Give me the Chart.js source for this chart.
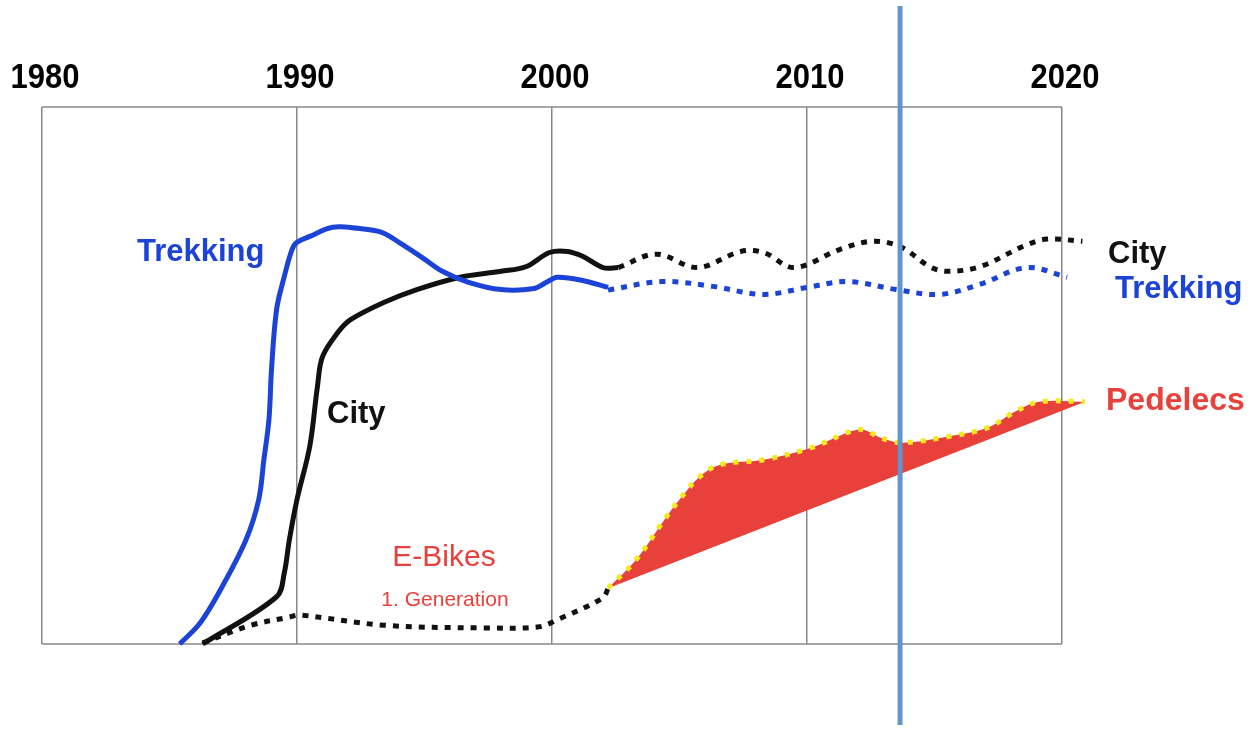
<!DOCTYPE html>
<html>
<head>
<meta charset="utf-8">
<script src="https://cdn.jsdelivr.net/npm/chart.js@4/dist/chart.umd.min.js"></script>
<style>
  body { margin: 0; background: #fff; }
  #wrap { width: 1253px; height: 730px; position: relative; }
</style>
</head>
<body>
<div id="wrap"><canvas id="bikeChart"></canvas></div>
<script>
// year ticks along the top
const yearTicks = [1980, 1990, 2000, 2010, 2020];

// Trekking, solid part
const trekkingYears = [1985.4, 1986.2, 1987.0, 1988.0, 1988.5, 1988.7, 1988.9, 1989.0, 1989.2, 1989.5, 1989.8, 1990.0, 1990.5, 1991.4, 1992.4, 1993.3, 1994.0, 1994.9, 1995.7, 1996.7, 1998.0, 1999.3, 1999.8, 2000.2, 2001.2, 2002.2];
const trekkingShare = [0, 3.9, 10.1, 19.4, 26.9, 34.3, 41.8, 51.1, 62.3, 68.4, 73.4, 74.8, 75.9, 77.6, 77.4, 76.7, 74.8, 72.0, 69.4, 67.4, 66.0, 66.2, 67.4, 68.3, 67.7, 66.4];
// Trekking, dotted outlook
const trekkingOutYears = [2002.2, 2004.3, 2006.3, 2008.3, 2010.0, 2011.6, 2013.5, 2015.2, 2016.8, 2018.6, 2020.2];
const trekkingOutShare = [65.9, 67.5, 66.6, 65.1, 66.4, 67.5, 66.0, 65.1, 67.0, 70.1, 68.3];

// City, solid part
const cityYears = [1986.3, 1989.2, 1989.5, 1989.7, 1990.0, 1990.5, 1990.8, 1991.0, 1991.6, 1992.1, 1993.4, 1994.7, 1996.4, 1998.0, 1999.0, 1999.9, 2000.6, 2001.2, 2002.0, 2002.6];
const cityShare = [0, 8.8, 13.2, 19.4, 26.9, 36.8, 47.9, 53.5, 58.0, 60.4, 63.6, 66.0, 68.3, 69.4, 70.3, 72.9, 73.1, 72.2, 70.1, 70.1];
// City, dotted outlook
const cityOutYears = [2002.6, 2004.1, 2005.7, 2007.4, 2008.3, 2009.5, 2011.3, 2012.6, 2013.7, 2014.8, 2015.5, 2016.8, 2018.5, 2019.4, 2020.8];
const cityOutShare = [70.1, 72.6, 70.1, 73.1, 72.9, 70.1, 73.5, 75.0, 73.9, 70.3, 69.4, 70.3, 74.1, 75.4, 75.0];

// E-Bikes 1st generation (dotted)
const ebikeYears = [1986.3, 1988.2, 1989.7, 1990.1, 1993.4, 1997.3, 1999.5, 2000.2, 2002.0, 2002.2];
const ebikeShare = [0.2, 3.5, 5.0, 5.4, 3.5, 3.0, 3.2, 4.5, 8.6, 10.4];

// Pedelecs band: upper edge and lower edge
const pedelecYears = [2002.2, 2003.3, 2004.4, 2005.0, 2005.8, 2006.6, 2008.3, 2010.2, 2011.6, 2012.2, 2012.9, 2013.7, 2015.5, 2017.1, 2018.1, 2019.1, 2020.9];
const pedelecShare = [10.4, 15.7, 23.1, 26.9, 31.2, 33.4, 34.3, 36.6, 39.4, 39.9, 38.4, 37.5, 38.6, 40.3, 43.1, 45.1, 45.1];
const pedelecBaseYears = [2002.2, 2020.9];
const pedelecBaseShare = [10.4, 45.1];

// marker for "today"
const markerYear = 2013.65;

const BLACK = '#111111';
const BLUE = '#1c43d8';
const RED = '#e8403a';
const YELLOW = '#f4ea1c';
const GRID = '#888888';

function pts(xs, ys) {
    return xs.map((x, i) => ({ x: x, y: ys[i] }));
}

// frame top/bottom edges and year labels (only 1980..2020, the scale runs a bit further)
const framePlugin = {
    id: 'frame',
    beforeDatasetsDraw(chart) {
        const { x, y } = chart.scales;
        const ctx = chart.ctx;
        const l = x.getPixelForValue(yearTicks[0]);
        const r = x.getPixelForValue(yearTicks[yearTicks.length - 1]);
        ctx.save();
        ctx.strokeStyle = GRID;
        ctx.lineWidth = 1.5;
        [y.getPixelForValue(0), y.getPixelForValue(100)].forEach(py => {
            ctx.beginPath();
            ctx.moveTo(l, py);
            ctx.lineTo(r, py);
            ctx.stroke();
        });
        ctx.fillStyle = '#000';
        ctx.font = 'bold 36px "Liberation Sans", Arial, sans-serif';
        ctx.textAlign = 'center';
        ctx.textBaseline = 'alphabetic';
        yearTicks.forEach(v => {
            ctx.save();
            ctx.translate(x.getPixelForValue(v) + 3, 88);
            ctx.scale(0.86, 0.98);
            ctx.fillText(String(v), 0, 0);
            ctx.restore();
        });
        ctx.restore();
    },
    afterDatasetsDraw(chart) {
        const ctx = chart.ctx;
        const px = chart.scales.x.getPixelForValue(markerYear);
        ctx.save();
        ctx.strokeStyle = '#6196cb';
        ctx.lineWidth = 5;
        ctx.beginPath();
        ctx.moveTo(px, 6);
        ctx.lineTo(px, 725);
        ctx.stroke();
        ctx.restore();
    },
    afterDraw(chart) {
        const ctx = chart.ctx;
        ctx.save();
        ctx.textBaseline = 'alphabetic';
        const bold = 'bold 31px "Liberation Sans", Arial, sans-serif';
        const txt = (s, x, y, color, font, align) => {
            ctx.fillStyle = color;
            ctx.font = font;
            ctx.textAlign = align || 'left';
            ctx.fillText(s, x, y);
        };
        txt('Trekking', 137, 261, BLUE, bold);
        txt('City', 327, 423, BLACK, bold);
        txt('City', 1108, 263, BLACK, bold);
        txt('Trekking', 1115, 298, BLUE, bold);
        txt('Pedelecs', 1106, 410, RED, 'bold 32px "Liberation Sans", Arial, sans-serif');
        txt('E-Bikes', 444, 566, RED, '30px "Liberation Sans", Arial, sans-serif', 'center');
        txt('1. Generation', 445, 606, RED, '21px "Liberation Sans", Arial, sans-serif', 'center');
        ctx.restore();
    }
};

const line = (data, color, dashed, extra) => Object.assign({
    data: data,
    borderColor: color,
    borderWidth: 5,
    borderDash: dashed ? [6, 7] : [],
    borderCapStyle: 'butt',
    borderJoinStyle: 'round',
    pointRadius: 0,
    fill: false,
    tension: 0.35,
    clip: false
}, extra || {});

new Chart(document.getElementById('bikeChart'), {
    type: 'line',
    data: {
        datasets: [
            line(pts(trekkingYears, trekkingShare), BLUE, false),
            line(pts(trekkingOutYears, trekkingOutShare), BLUE, true),
            line(pts(cityYears, cityShare), BLACK, false),
            line(pts(cityOutYears, cityOutShare), BLACK, true),
            line(pts(ebikeYears, ebikeShare), BLACK, true),
            line(pts(pedelecYears, pedelecShare), YELLOW, true, {
                borderDash: [5, 8],
                fill: { target: 6 },
                backgroundColor: RED
            }),
            line(pts(pedelecBaseYears, pedelecBaseShare), RED, false, {
                borderWidth: 0,
                tension: 0
            })
        ]
    },
    options: {
        responsive: true,
        maintainAspectRatio: false,
        animation: false,
        layout: { padding: { left: 42, right: 165.5, top: 107, bottom: 86 } },
        plugins: { legend: { display: false }, tooltip: { enabled: false } },
        scales: {
            x: {
                type: 'linear',
                position: 'top',
                min: 1980,
                max: 2021,
                afterBuildTicks: axis => { axis.ticks = yearTicks.map(v => ({ value: v })); },
                ticks: { display: false },
                grid: { color: GRID, lineWidth: 1.5, drawTicks: false },
                border: { display: false }
            },
            y: {
                display: false,
                min: 0,
                max: 100
            }
        }
    },
    plugins: [framePlugin]
});
</script>
</body>
</html>
